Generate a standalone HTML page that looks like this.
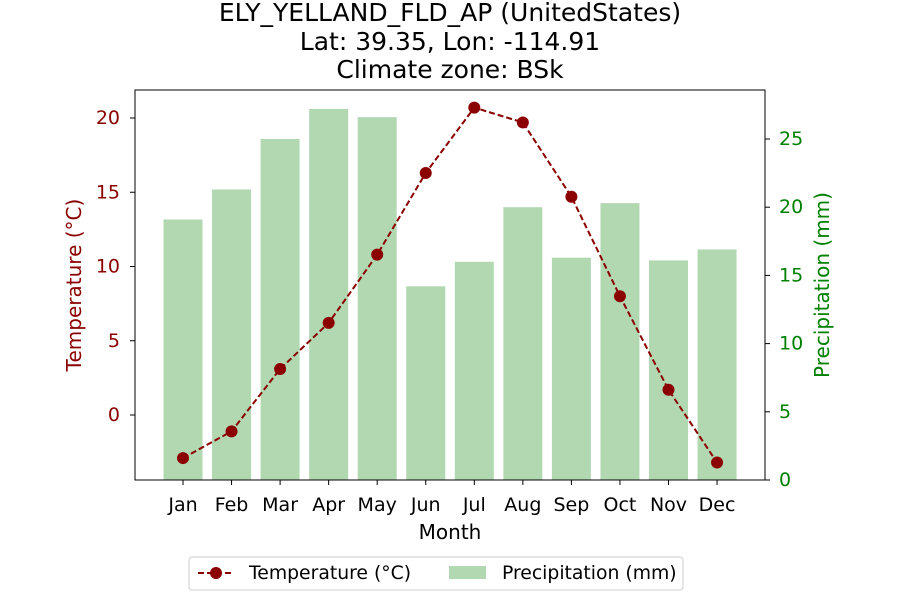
<!DOCTYPE html>
<html><head><meta charset="utf-8"><style>
body{margin:0;background:#fff;font-family:"Liberation Sans","DejaVu Sans",sans-serif;}
svg text{font-family:"DejaVu Sans","Liberation Sans",sans-serif;}
</style></head><body>
<svg id="chart" width="900" height="600" xmlns="http://www.w3.org/2000/svg">
<g font-size="25" text-anchor="middle" fill="#000">
<text x="450" y="21">ELY_YELLAND_FLD_AP (UnitedStates)</text>
<text x="450" y="50">Lat: 39.35, Lon: -114.91</text>
<text x="450" y="78">Climate zone: BSk</text>
</g>
<g id="bars"></g>
<g id="line"></g>
<rect x="135" y="90" width="630" height="390" fill="none" stroke="#000" stroke-width="1"/>
<g id="xt"></g>
<g id="yl"></g>
<g id="yr"></g>
<text x="450" y="539" font-size="20" text-anchor="middle">Month</text>
<text transform="translate(81,285) rotate(-90)" font-size="20" text-anchor="middle" fill="#8b0000">Temperature (°C)</text>
<text transform="translate(829,285) rotate(-90)" font-size="20" text-anchor="middle" fill="#008000">Precipitation (mm)</text>
<g>
<rect x="189" y="557" width="494" height="33" rx="3" fill="#fff" stroke="#ccc"/>
<g>
<line x1="198" y1="573" x2="234" y2="573" stroke="#8b0000" stroke-width="2" stroke-dasharray="6,3"/>
<circle cx="216" cy="573" r="6" fill="#8b0000"/>
<text x="249" y="579" font-size="18.8">Temperature (°C)</text></g>
<g>
<rect x="449" y="566" width="37" height="13" fill="#b2d8b2"/>
<text x="502" y="579" font-size="18.8">Precipitation (mm)</text></g>
</g>
</svg>
<script>
const months=["Jan","Feb","Mar","Apr","May","Jun","Jul","Aug","Sep","Oct","Nov","Dec"];
const temperature=[-2.9,-1.1,3.1,6.2,10.8,16.3,20.7,19.7,14.7,8.0,1.7,-3.2];
const precipitation=[19.1,21.3,25.0,27.2,26.6,14.2,16.0,20.0,16.3,20.3,16.1,16.9];
const tempTicks=[0,5,10,15,20];
const precTicks=[0,5,10,15,20,25];
const NS="http://www.w3.org/2000/svg";
const X=i=>183+i*48.55;
const YT=v=>415-v*14.85;
const YP=v=>480-v*13.64;
function mk(tag,attrs,parent){const e=document.createElementNS(NS,tag);for(const k in attrs)e.setAttribute(k,attrs[k]);parent.appendChild(e);return e;}
const bars=document.getElementById('bars'),line=document.getElementById('line'),xt=document.getElementById('xt'),yl=document.getElementById('yl'),yr=document.getElementById('yr');
precipitation.forEach((p,i)=>{const r=mk('rect',{x:X(i)-19.5,y:YP(p),width:39,height:480-YP(p),fill:'#b2d8b2'},bars);

});
const pl=mk('polyline',{points:temperature.map((t,i)=>X(i)+','+YT(t)).join(' '),fill:'none',stroke:'#8b0000','stroke-width':2,'stroke-dasharray':'6,3'},line);


temperature.forEach((t,i)=>{const c=mk('circle',{cx:X(i),cy:YT(t),r:6,fill:'#8b0000'},line);

});
months.forEach((m,i)=>{mk('line',{x1:X(i),x2:X(i),y1:480,y2:485,stroke:'#000'},xt);
const t=mk('text',{x:X(i),y:511,'font-size':19,'text-anchor':'middle'},xt);t.textContent=m;

});
tempTicks.forEach(v=>{mk('line',{x1:130,x2:135,y1:YT(v),y2:YT(v),stroke:'#000'},yl);
const t=mk('text',{x:120,y:YT(v)+6,'font-size':19,'text-anchor':'end',fill:'#8b0000'},yl);t.textContent=v;

});
precTicks.forEach(v=>{mk('line',{x1:765,x2:770,y1:YP(v),y2:YP(v),stroke:'#000'},yr);
const t=mk('text',{x:779,y:YP(v)+6,'font-size':19,'text-anchor':'start',fill:'#008000'},yr);t.textContent=v;

});
</script>
</body></html>
